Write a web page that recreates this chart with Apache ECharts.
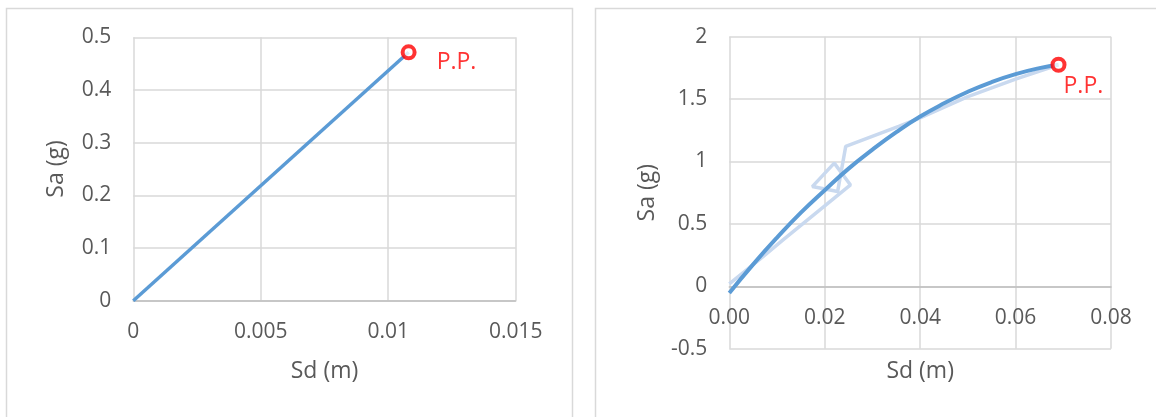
<!DOCTYPE html>
<html>
<head>
<meta charset="utf-8">
<title>Sa-Sd</title>
<script src="https://cdn.jsdelivr.net/npm/echarts@6/dist/echarts.min.js"></script>
<style>
    html,body{margin:0;padding:0;background:#fff;}
    #chart{width:1156px;height:417px;}
</style>
</head>
<body>
<div id="chart"></div>
<script>
// left panel: straight capacity line
var leftSd = [0, 0.0108];
var leftSa = [0, 0.4715];
// right panel: smooth curve (dark) and raw trace (light)
var curveSd = [0, 0.005, 0.01, 0.015, 0.02, 0.025, 0.03, 0.035, 0.04, 0.045, 0.05, 0.055, 0.06, 0.065, 0.069];
var curveSa = [-0.053, 0.176, 0.39, 0.59, 0.77, 0.943, 1.095, 1.235, 1.36, 1.466, 1.559, 1.637, 1.70, 1.748, 1.775];
var traceSd = [0, 0.007, 0.0112, 0.0254, 0.022, 0.0174, 0.0227, 0.0244, 0.0355, 0.04, 0.05, 0.06, 0.069];
var traceSa = [0.02, 0.236, 0.37, 0.812, 0.987, 0.799, 0.759, 1.121, 1.282, 1.35, 1.52, 1.66, 1.775];
// performance points
var ppLeft = [0.0108, 0.4715];
var ppRight = [0.069, 1.775];
var ppText = 'P.P.';

function zip(xs, ys){
    var res = [];
    for (var i = 0; i < xs.length; i++) {
        res.push([xs[i], ys[i]]);
    }
    return res;
}

var font = 'Open Sans';
var grey = '#595959';
var blue = '#5b9bd5';

// off: moves the x axis up to the y=0 line (right panel)
function xAxisOf(idx, max, step, gap, off, fmt){
    return {
        type: 'value', gridIndex: idx, min: 0, max: max, interval: step, offset: off,
        name: 'Sd (m)', nameLocation: 'middle', nameGap: gap, nameMoveOverlap: false,
        nameTextStyle: {color: grey, fontSize: 23, fontFamily: font},
        axisLine: {show: true, onZero: false, lineStyle: {color: '#bfbfbf', width: 1.5}},
        axisTick: {show: false},
        axisLabel: {color: grey, fontSize: 21, fontFamily: font, margin: 21, formatter: fmt},
        splitLine: {show: true, lineStyle: {color: '#d9d9d9', width: 1.5}}
    };
}
function yAxisOf(idx, min, max, step, gap){
    return {
        type: 'value', gridIndex: idx, min: min, max: max, interval: step,
        name: 'Sa (g)', nameLocation: 'middle', nameGap: gap, nameRotate: 90, nameMoveOverlap: false,
        nameTextStyle: {color: grey, fontSize: 23, fontFamily: font},
        axisLine: {show: false},
        axisTick: {show: false},
        axisLabel: {color: grey, fontSize: 21, fontFamily: font, margin: 22},
        splitLine: {show: true, lineStyle: {color: '#d9d9d9', width: 1.5}}
    };
}
function ppSeries(idx, point, dist, off){
    return {
        type: 'scatter', xAxisIndex: idx, yAxisIndex: idx, z: 5,
        data: [point], symbol: 'circle', symbolSize: 12,
        itemStyle: {color: '#fff', borderColor: '#ff0000', borderWidth: 4},
        label: {show: true, formatter: ppText, position: 'right', distance: dist, offset: off,
            color: '#ff0000', fontSize: 23, fontFamily: font},
        emphasis: {disabled: true}
    };
}

var myChart = echarts.init(document.getElementById('chart'));
var option = {
    backgroundColor: '#fff',
    animation: false,
    graphic: [
        {type: 'rect', shape: {x: 6.5, y: 8.5, width: 566, height: 420}, style: {fill: 'none', stroke: '#d9d9d9', lineWidth: 1.5}},
        {type: 'rect', shape: {x: 595.5, y: 8.5, width: 580, height: 420}, style: {fill: 'none', stroke: '#d9d9d9', lineWidth: 1.5}}
    ],
    grid: [
        {left: 133.3, top: 37.3, width: 382.4, height: 263.4},
        {left: 729.3, top: 36.7, width: 381.7, height: 312}
    ],
    xAxis: [
        xAxisOf(0, 0.015, 0.005, 59, 0),
        xAxisOf(1, 0.08, 0.02, 73, -62, function(v){ return v.toFixed(2); })
    ],
    yAxis: [
        yAxisOf(0, 0, 0.5, 0.1, 65),
        yAxisOf(1, -0.5, 2, 0.5, 70)
    ],
    series: [
        {
            type: 'line', xAxisIndex: 0, yAxisIndex: 0,
            data: zip(leftSd, leftSa), showSymbol: false,
            lineStyle: {color: blue, width: 3.5}
        },
        {
            type: 'line', xAxisIndex: 1, yAxisIndex: 1,
            data: zip(traceSd, traceSa), showSymbol: false,
            lineStyle: {color: '#c9d9ef', width: 3.5}
        },
        {
            type: 'line', xAxisIndex: 1, yAxisIndex: 1,
            data: zip(curveSd, curveSa), showSymbol: false, smooth: true,
            lineStyle: {color: blue, width: 4}
        },
        ppSeries(0, ppLeft, 20, [0, 10]),
        ppSeries(1, ppRight, -3, [0, 22])
    ]
};
myChart.setOption(option);
</script>
</body>
</html>
